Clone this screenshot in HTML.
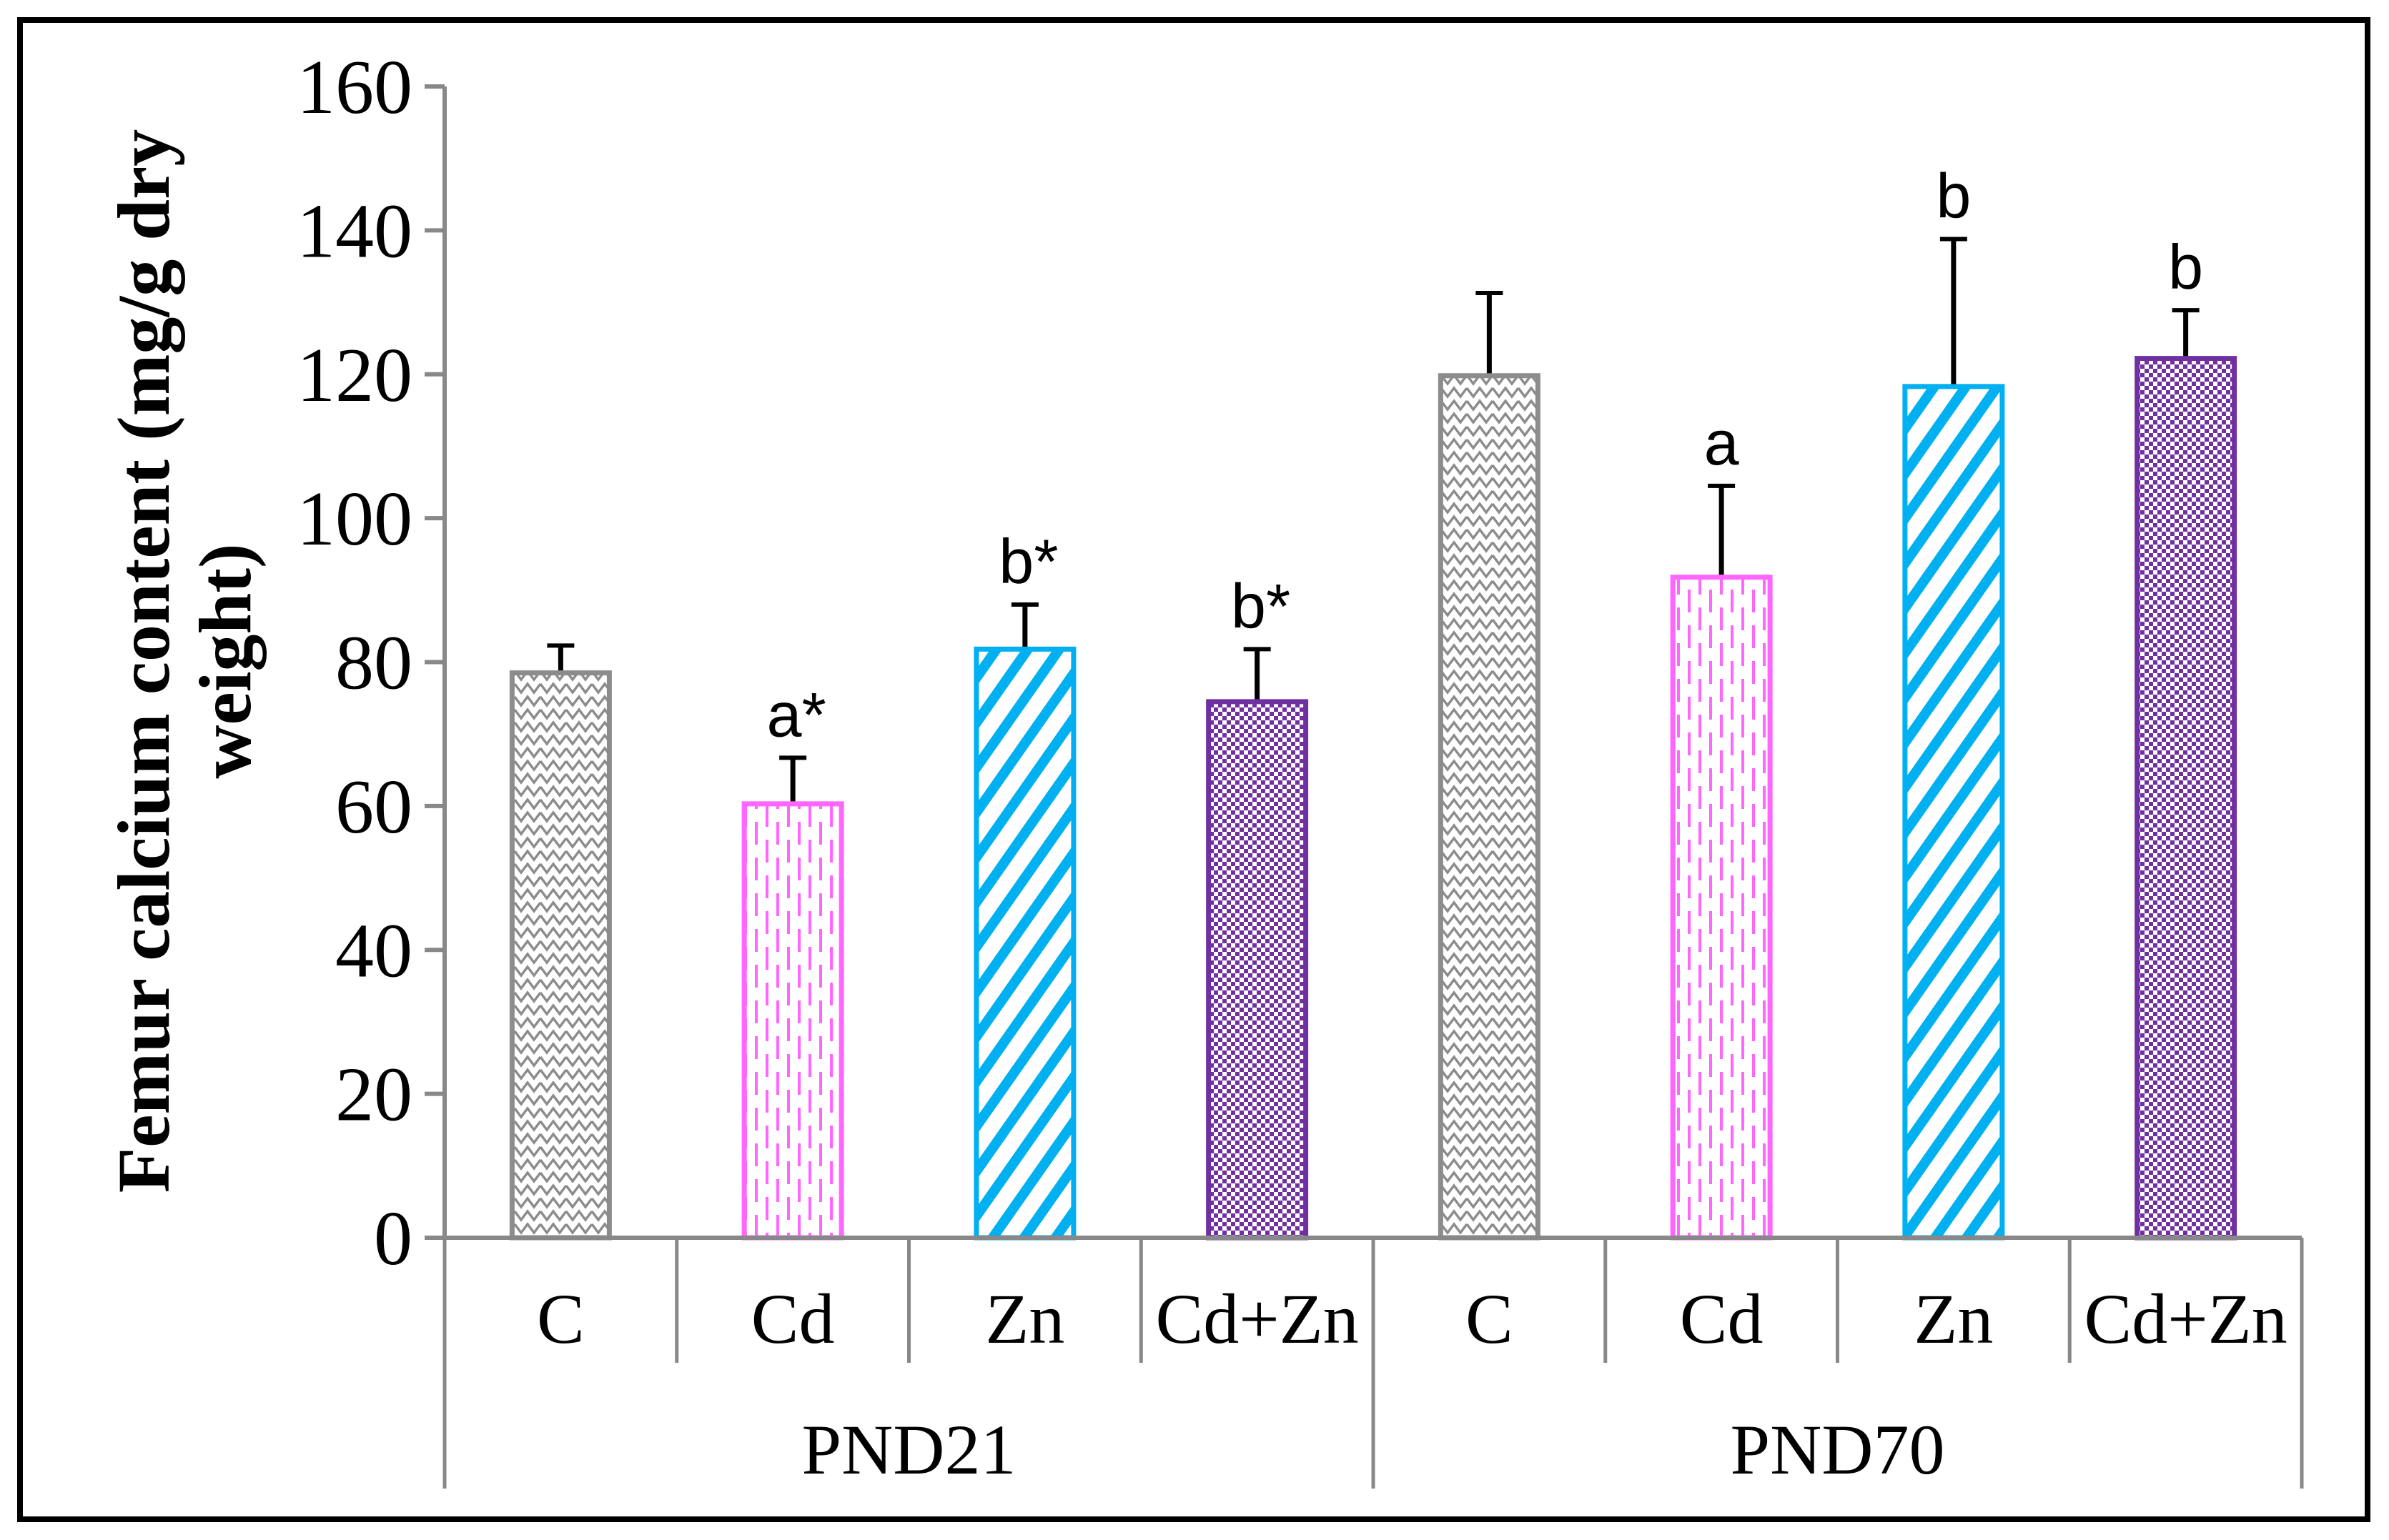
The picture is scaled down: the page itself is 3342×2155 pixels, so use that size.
<!DOCTYPE html>
<html><head><meta charset="utf-8">
<style>
html,body{margin:0;padding:0;background:#fff;}
svg{display:block;}
</style></head>
<body>
<svg id="chart" xmlns="http://www.w3.org/2000/svg" width="3342" height="2155" viewBox="0 0 3342 2155">
<defs>
  <pattern id="pZig" patternUnits="userSpaceOnUse" width="36" height="36">
    <rect width="36" height="36" fill="#fff"/>
    <polyline points="0,3 9,15 18,3 27,15 36,3" fill="none" stroke="#8c8c8c" stroke-width="3.5"/>
    <polyline points="0,21 9,33 18,21 27,33 36,21" fill="none" stroke="#8c8c8c" stroke-width="3.5"/>
  </pattern>
  <pattern id="pDash" patternUnits="userSpaceOnUse" width="30" height="50">
    <rect width="30" height="50" fill="#fff"/>
    <line x1="8" y1="0" x2="8" y2="32" stroke="#ff66ff" stroke-width="4"/>
    <line x1="23" y1="25" x2="23" y2="50" stroke="#ff66ff" stroke-width="4"/>
    <line x1="23" y1="0" x2="23" y2="7" stroke="#ff66ff" stroke-width="4"/>
  </pattern>
  <pattern id="pDiag" patternUnits="userSpaceOnUse" width="36" height="36" patternTransform="rotate(-55)">
    <rect width="36" height="36" fill="#fff"/>
    <rect x="0" y="0" width="36" height="14" fill="#00b0f0"/>
  </pattern>
  <pattern id="pCheck" patternUnits="userSpaceOnUse" width="12" height="12">
    <rect width="12" height="12" fill="#fff"/>
    <rect x="0" y="0" width="6" height="6" fill="#7030a0"/>
    <rect x="6" y="6" width="6" height="6" fill="#7030a0"/>
  </pattern>
</defs>
<rect x="28" y="28" width="3284" height="2098" fill="#fff" stroke="#000" stroke-width="8"/>
<g id="plot"></g>
<text transform="translate(236,925) rotate(-90)" text-anchor="middle" font-family="Liberation Serif, serif" font-weight="bold" font-size="104" fill="#000">Femur calcium content (mg/g dry</text>
<text transform="translate(350,925) rotate(-90)" text-anchor="middle" font-family="Liberation Serif, serif" font-weight="bold" font-size="104" fill="#000">weight)</text>
</svg>
<script>
const groups = ["PND21", "PND70"];
const categories = ["C", "Cd", "Zn", "Cd+Zn", "C", "Cd", "Zn", "Cd+Zn"];
const means = [78.5, 60.3, 81.8, 74.5, 119.8, 91.8, 118.3, 122.2];
const errors = [3.8, 6.4, 6.2, 7.3, 11.5, 12.7, 20.5, 6.7];
const sigLabels = ["", "a*", "b*", "b*", "", "a", "b", "b"];
const yTicks = [0, 20, 40, 60, 80, 100, 120, 140, 160];

const NS = "http://www.w3.org/2000/svg";
const g = document.getElementById("plot");
const X0 = 622, X1 = 3220, Y0 = 1732, YTOP = 121, YMAX = 160;
const catW = (X1 - X0) / categories.length;
const yS = v => Y0 - (v / YMAX) * (Y0 - YTOP);
const xC = i => X0 + catW * (i + 0.5);
const fills = ["url(#pZig)", "url(#pDash)", "url(#pDiag)", "url(#pCheck)"];
const strokes = ["#8c8c8c", "#ff66ff", "#00b0f0", "#7030a0"];
function mk(tag, attrs, name) {
  const e = document.createElementNS(NS, tag);
  for (const k in attrs) e.setAttribute(k, attrs[k]);
  
  
  g.appendChild(e);
  return e;
}
mk("line", {x1: X0, y1: YTOP, x2: X0, y2: Y0, stroke: "#888", "stroke-width": 6}, "y-axis-line");
yTicks.forEach(t => {
  mk("line", {x1: X0 - 28, y1: yS(t), x2: X0, y2: yS(t), stroke: "#888", "stroke-width": 6}, "y-tick");
  const tx = mk("text", {x: X0 - 45, y: yS(t) + 37, "text-anchor": "end", "font-family": "Liberation Serif, serif", "font-size": "108", fill: "#000"}, "y-tick-label");
  tx.textContent = t;
});
categories.forEach((c, i) => {
  const bw = 136;
  const x = xC(i) - bw / 2;
  const top = yS(means[i]);
  const et = yS(means[i] + errors[i]);
  mk("line", {x1: xC(i), y1: top, x2: xC(i), y2: et, stroke: "#000", "stroke-width": 7}, "error-bar");
  mk("line", {x1: xC(i) - 19, y1: et, x2: xC(i) + 19, y2: et, stroke: "#000", "stroke-width": 6}, "error-cap");
  mk("rect", {x: x, y: top, width: bw, height: Y0 - top, fill: fills[i % 4], stroke: strokes[i % 4], "stroke-width": 7}, "bar-" + groups[Math.floor(i / 4)].toLowerCase() + "-" + c.toLowerCase().replace("+", "-"));
  if (sigLabels[i]) {
    const s = mk("text", {x: xC(i) + (sigLabels[i].length > 1 ? 5 : 0), y: et - 30, "text-anchor": "middle", "font-family": "Liberation Sans, sans-serif", "font-size": "88", fill: "#000"}, "significance-label");
    s.textContent = sigLabels[i];
  }
  const l = mk("text", {x: xC(i), y: 1879, "text-anchor": "middle", "font-family": "Liberation Serif, serif", "font-size": "100", fill: "#000"}, "x-category-label");
  l.textContent = c;
});
mk("line", {x1: X0 - 28, y1: Y0, x2: X1, y2: Y0, stroke: "#888", "stroke-width": 6}, "x-axis-line");
for (let i = 0; i <= categories.length; i++) {
  const long = i % 4 === 0;
  mk("line", {x1: X0 + catW * i, y1: Y0, x2: X0 + catW * i, y2: long ? 2083 : 1907, stroke: "#888", "stroke-width": 5}, "x-separator");
}
groups.forEach((gr, k) => {
  const t = mk("text", {x: X0 + catW * (4 * k + 2), y: 2062, "text-anchor": "middle", "font-family": "Liberation Serif, serif", "font-size": "100", fill: "#000"}, "group-label");
  t.textContent = gr;
});
</script>
</body></html>
